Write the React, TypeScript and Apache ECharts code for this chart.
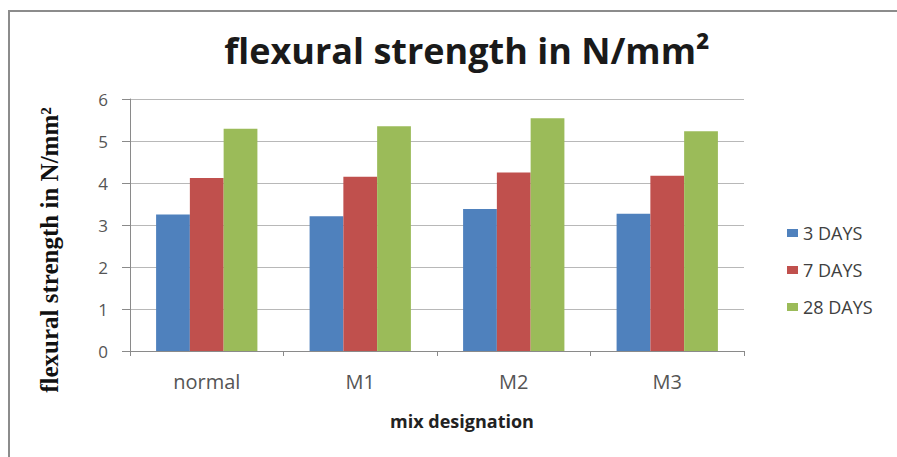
import React, { useEffect, useRef } from "react";
import * as echarts from "echarts";

const categories = ["normal", "M1", "M2", "M3"];
const days3 = [3.25, 3.21, 3.38, 3.27];
const days7 = [4.12, 4.15, 4.25, 4.17];
const days28 = [5.29, 5.35, 5.54, 5.23];
const seriesNames = ["3 DAYS", "7 DAYS", "28 DAYS"];
const colors = ["#4F81BD", "#C0504D", "#9BBB59"];

const W = 897;
const H = 457;
const FONT = "Open Sans";

export default function App() {
  const ref = useRef<HTMLDivElement>(null);

  useEffect(() => {
    if (!ref.current) return;
    document.documentElement.style.overflow = "hidden";
    document.body.style.overflow = "hidden";
    const chart = echarts.init(ref.current, null, { renderer: "svg" });
    const values = [days3, days7, days28];
    chart.setOption({
      animation: false,
      backgroundColor: "#ffffff",
      title: {
        text: "flexural strength in N/mm²",
        left: 462,
        top: 27,
        textAlign: "center",
        textStyle: {
          fontFamily: FONT,
          fontWeight: "bold",
          fontSize: 36,
          color: "#1a1a1a",
        },
      },
      legend: {
        orient: "vertical",
        left: 782,
        top: 219,
        itemWidth: 11,
        itemHeight: 8,
        itemGap: 19,
        icon: "rect",
        textStyle: { fontFamily: FONT, fontSize: 18, color: "#404040", padding: [0, 0, 0, 0] },
        data: seriesNames,
      },
      grid: { left: 130, right: W - 744, top: 99, bottom: H - 351 },
      xAxis: {
        type: "category",
        data: categories,
        axisLine: { lineStyle: { color: "#8a8a8a", width: 1 } },
        axisTick: { show: true, length: 5, lineStyle: { color: "#8a8a8a" } },
        axisLabel: { fontFamily: FONT, fontSize: 20, color: "#555555", margin: 20 },
      },
      yAxis: {
        type: "value",
        min: 0,
        max: 6,
        interval: 1,
        axisLine: { show: true, lineStyle: { color: "#8a8a8a", width: 1 } },
        axisTick: { show: true, length: 8, lineStyle: { color: "#8a8a8a" } },
        axisLabel: { fontFamily: FONT, fontSize: 17, color: "#555555", margin: 22 },
        splitLine: { lineStyle: { color: "#b8b8b8", width: 1 } },
      },
      series: seriesNames.map((name, i) => ({
        name,
        type: "bar",
        data: values[i],
        itemStyle: { color: colors[i] },
        barGap: "0%",
        barCategoryGap: "34%",
      })),
      graphic: [
        {
          type: "text",
          x: 49,
          y: 250,
          rotation: Math.PI / 2,
          style: {
            text: "flexural strength in N/mm²",
            fontFamily: "Liberation Serif",
            fontWeight: "bold",
            fontSize: 25,
            fill: "#111111",
            textAlign: "center",
            textVerticalAlign: "middle",
          },
        },
        {
          type: "text",
          x: 462,
          y: 421,
          style: {
            text: "mix designation",
            fontFamily: FONT,
            fontWeight: "bold",
            fontSize: 18,
            fill: "#222222",
            textAlign: "center",
            textVerticalAlign: "middle",
          },
        },
      ],
    });
    return () => chart.dispose();
  }, []);

  return (
    <div style={{ position: "absolute", left: 0, top: 0, width: W, height: H, overflow: "hidden" }}>
      <div ref={ref} style={{ position: "absolute", left: 0, top: 0, width: W, height: H }} />
      {/* chart frame: only the left and top edges fall inside the page */}
      <div
        style={{
          position: "absolute",
          left: 8,
          top: 10,
          width: W,
          height: H,
          borderLeft: "2px solid #8c8c8c",
          borderTop: "2px solid #8c8c8c",
          pointerEvents: "none",
        }}
      />
    </div>
  );
}
